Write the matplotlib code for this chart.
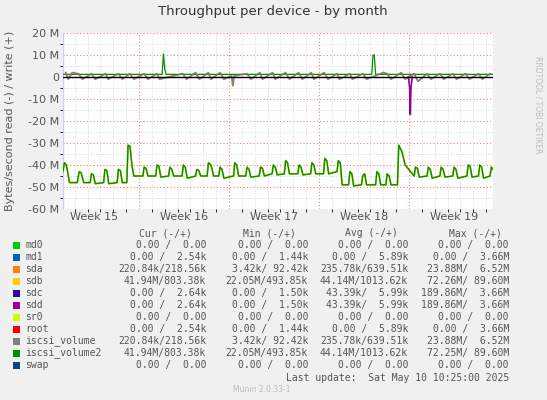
import matplotlib
matplotlib.use("Agg")
import matplotlib.pyplot as plt
from matplotlib.ticker import MultipleLocator

# days since start of Week 15, values in MB/s (negative = read)
read_days = [1.09, 1.2, 1.35, 1.6, 2.2, 2.35, 2.5, 2.7, 3.2, 3.3, 3.45, 3.6, 4.25, 4.35, 4.5, 4.65, 5.3, 5.4, 5.55,
             5.7, 6.05, 6.15, 6.3, 6.45, 6.6, 7.3, 7.4, 7.55, 7.7, 8.3, 8.4, 8.55, 8.7, 9.3, 9.4, 9.55, 9.7,
             10.35, 10.45, 10.6, 10.75, 11.4, 11.5, 11.65, 11.8, 12.3, 12.4, 12.6, 12.8, 13.2, 13.3, 13.45, 13.6,
             14.35, 14.45, 14.6, 14.75, 15.3, 15.4, 15.55, 15.7, 16.35, 16.45, 16.6, 16.75, 17.35, 17.45, 17.6, 17.75,
             18.3, 18.4, 18.55, 18.7, 19.35, 19.45, 19.6, 19.75, 20.35, 20.45, 20.6, 20.75, 21.35, 21.45, 21.6, 21.75,
             22.4, 22.5, 22.65, 22.8, 23.3, 23.4, 23.55, 23.7, 24.3, 24.4, 24.55, 24.7, 25.4, 25.5, 25.65, 25.8,
             26.2, 26.3, 26.45, 26.6, 27.1, 27.2, 27.45, 27.7, 28.4, 28.5, 28.65, 28.8, 29.4, 29.5, 29.65, 29.8,
             30.4, 30.5, 30.65, 30.8, 31.4, 31.5, 31.65, 31.8, 32.5, 32.6, 32.75, 32.9, 33.4, 33.5, 33.65, 33.8,
             34.3, 34.4, 34.53]
read_vals = [-43, -39, -40, -48, -48, -43, -43.5, -48, -48, -44, -44.5, -48.5, -48, -42, -42.5, -48.5, -48, -42, -42.5,
             -48, -48, -31, -31.5, -40, -45, -45, -41, -41.5, -45, -45, -40, -40.5, -45.5, -45, -41, -42, -45,
             -45, -40, -41, -46, -45, -42, -42.5, -45, -45, -39, -40, -45, -45, -41, -42, -46,
             -45, -39, -40, -45, -45, -41, -42, -45.5, -45, -41, -41.5, -45, -44, -40, -41, -44.5,
             -44, -38, -39, -44, -44, -40, -41, -44.5, -44, -39, -40, -44, -44, -37, -38, -44,
             -43, -38, -39, -49, -49, -43, -44, -49.5, -49, -45, -44, -49, -49, -43, -44, -49,
             -49, -44, -45, -49, -49, -31, -34, -40, -45, -41, -41.5, -45.5, -45, -41, -42, -46,
             -45, -41, -42, -45.5, -45, -41, -42, -46, -45, -40, -40.5, -45.5, -45, -40, -41, -46,
             -45, -41, -42]

write_days = [1.09, 8.8, 8.9, 9.0, 9.1, 25.1, 25.2, 25.3, 25.4, 34.53]
write_vals = [1.2, 1.2, 10.5, 4, 1.2, 1.2, 10, 10, 1.2, 1.2]

small_days = [1.3, 1.5, 1.8, 2.3, 2.6, 3.3, 3.6, 4.4, 4.6, 5.4, 5.7, 6.3, 6.6, 7.4, 7.7, 8.4, 8.6, 10.4, 10.7,
              11.4, 11.7, 12.4, 12.6, 13.3, 13.6, 14.2, 14.3, 14.4, 15.4, 15.7, 16.4, 16.6, 17.4, 17.6, 18.4, 18.7,
              19.4, 19.7, 20.4, 20.6, 21.4, 21.7, 22.4, 22.6, 23.4, 23.6, 24.4, 24.7, 26.0, 26.3, 26.6, 27.4,
              27.7, 28.4, 28.7, 29.4, 29.7, 30.4, 30.7, 31.4, 31.7, 32.4, 32.7, 33.4, 33.7, 34.3]
small_vals = [2, -1, 2, 1.5, -1, 1.5, -1, 1.5, -1, 1.5, -1, 1.5, -1, 1.5, -1, 1.5, -1, 1.5, -1,
              2, -1, 2, -1, 2, -1, 0.5, -4, 0.5, 1.5, -1, 2, -1, 2, -1, 2, -1,
              2, -1, 2, -1, 2, -1, 1.5, -1, 1.5, -1, 1.5, -1, 2, 1.5, -1, 2,
              -1, 1.5, -2, 1.5, -1, 1.5, -1, 1.5, -1, 1.5, -1, 1.5, -1, 1.5]

sdd_days = [27.95, 28.05, 28.1, 28.15, 28.25]
sdd_vals = [0, -5, -17, -5, 0]

week_pos = [3.5, 10.5, 17.5, 24.5, 31.5]
week_labels = ["Week 15", "Week 16", "Week 17", "Week 18", "Week 19"]

names = ["md0", "md1", "sda", "sdb", "sdc", "sdd", "sr0", "root", "iscsi_volume", "iscsi_volume2", "swap"]
colors = ["#00CC00", "#0066B3", "#FF8000", "#FFCC00", "#330099", "#990099", "#CCFF00", "#FF0000",
          "#808080", "#008F00", "#00487D"]
cur = ["0.00 /  0.00", "0.00 /  2.54k", "220.84k/218.56k", "41.94M/803.38k", "0.00 /  2.64k", "0.00 /  2.64k",
       "0.00 /  0.00", "0.00 /  2.54k", "220.84k/218.56k", "41.94M/803.38k", "0.00 /  0.00"]
mins = ["0.00 /  0.00", "0.00 /  1.44k", "3.42k/ 92.42k", "22.05M/493.85k", "0.00 /  1.50k", "0.00 /  1.50k",
        "0.00 /  0.00", "0.00 /  1.44k", "3.42k/ 92.42k", "22.05M/493.85k", "0.00 /  0.00"]
avgs = ["0.00 /  0.00", "0.00 /  5.89k", "235.78k/639.51k", "44.14M/1013.62k", "43.39k/  5.99k", "43.39k/  5.99k",
        "0.00 /  0.00", "0.00 /  5.89k", "235.78k/639.51k", "44.14M/1013.62k", "0.00 /  0.00"]
maxs = ["0.00 /  0.00", "0.00 /  3.66M", "23.88M/  6.52M", "72.26M/ 89.60M", "189.86M/  3.66M", "189.86M/  3.66M",
        "0.00 /  0.00", "0.00 /  3.66M", "23.88M/  6.52M", "72.25M/ 89.60M", "0.00 /  0.00"]

W, H = 547, 400
fig = plt.figure(figsize=(W / 100, H / 100), dpi=100, facecolor="#F0F0F0")
ax = fig.add_axes([63 / W, 1 - 209 / H, 430 / W, 176 / H], facecolor="white")
ax.set_xlim(1.09, 34.53)
ax.set_ylim(-60, 20)
ax.xaxis.set_minor_locator(MultipleLocator(1))
ax.set_xticks([7, 14, 21, 28, 34.53])
ax.set_xticklabels([])
ax.yaxis.set_minor_locator(MultipleLocator(5))
ax.set_yticks(range(-60, 21, 10))
ax.set_yticklabels([f"{v} M" if v else "0" for v in range(-60, 21, 10)], fontsize=8, color="#555555")
ax.grid(which="minor", color="#CCCCCC", linestyle=(0, (1, 2)), linewidth=0.6)
ax.grid(which="major", color="#FF7777", linestyle=(0, (1, 2)), linewidth=0.8)
ax.tick_params(length=0, pad=3)
for s in ax.spines.values():
    s.set_visible(False)
for p, lab in zip(week_pos, week_labels):
    ax.text(p, -61.5, lab, ha="center", va="top", fontsize=8, color="#555555")
ax.axvline(1.09, color="#CCCCFF", lw=1)

ax.plot(write_days, write_vals, color="#008F00", lw=0.9)
ax.plot(small_days, small_vals, color="#8B7060", lw=1.3, alpha=0.9)
ax.plot(sdd_days, sdd_vals, color="#990099", lw=1.2)
ax.plot(read_days, read_vals, color="#B0C000", lw=1.3)
ax.plot(read_days, read_vals, color="#008F00", lw=0.9)
ax.axhline(0, color="black", lw=1)

fig.text(273 / W, 1 - 11 / H, "Throughput per device - by month", ha="center", va="center", fontsize=9.5, color="#333333")
fig.text(10 / W, 1 - 121 / H, "Bytes/second read (-) / write (+)", rotation=90, ha="center", va="center",
         fontsize=8, color="#555555")
fig.text(538 / W, 1 - 105 / H, "RRDTOOL / TOBI OETIKER", rotation=270, ha="center", va="center",
         fontsize=5.5, color="#BBBBBB")

mono = dict(family="DejaVu Sans Mono", fontsize=7, color="#555555", va="center")
fig.text(192 / W, 1 - 233 / H, "Cur (-/+)", ha="right", **mono)
fig.text(296 / W, 1 - 233 / H, "Min (-/+)", ha="right", **mono)
fig.text(398 / W, 1 - 233 / H, "Avg (-/+)", ha="right", **mono)
fig.text(502 / W, 1 - 233 / H, "Max (-/+)", ha="right", **mono)
for i, n in enumerate(names):
    y = 1 - (245 + i * 12) / H
    fig.patches.append(plt.Rectangle((13 / W, y - 3.5 / H), 7 / W, 7 / H, transform=fig.transFigure,
                                     facecolor=colors[i], edgecolor="none"))
    fig.text(25 / W, y, n, ha="left", **mono)
    fig.text(206 / W, y, cur[i], ha="right", **mono)
    fig.text(308 / W, y, mins[i], ha="right", **mono)
    fig.text(408 / W, y, avgs[i], ha="right", **mono)
    fig.text(509 / W, y, maxs[i], ha="right", **mono)
fig.text(509 / W, 1 - 378 / H, "Last update:  Sat May 10 10:25:00 2025", ha="right", **mono)
fig.text(262 / W, 1 - 389 / H, "Munin 2.0.33-1", ha="center", va="center", fontsize=5.5, color="#BBBBBB")

fig.savefig("out.png", dpi=100, facecolor=fig.get_facecolor())
